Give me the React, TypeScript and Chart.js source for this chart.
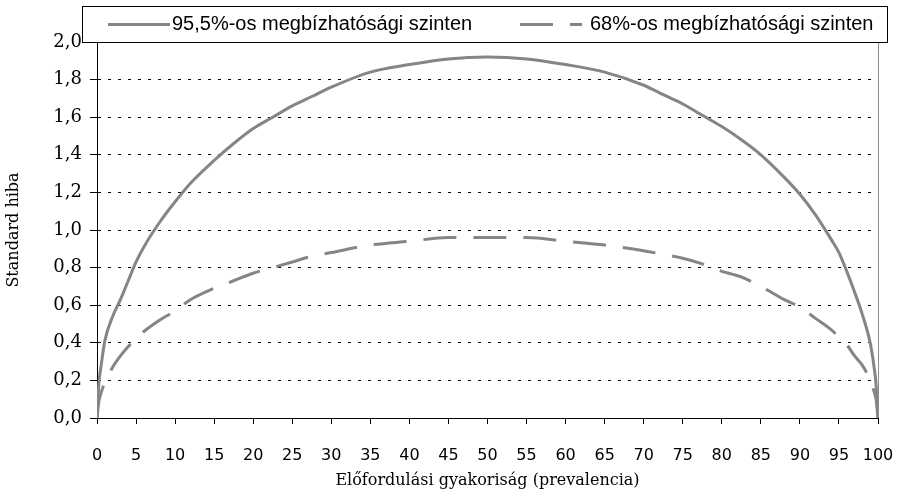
import React, { useEffect, useRef } from "react";
import { Chart, registerables } from "chart.js";

Chart.register(...registerables);

// Prevalence (x, %)
const prevalence = [
  0, 0.25, 0.5, 1, 2, 3, 4, 5, 6, 8, 10, 12, 15, 17.5, 20, 22.5, 25, 27.5, 30, 35,
  40, 45, 50, 55, 60, 65, 70, 72.5, 75, 77.5, 80, 82.5, 85, 88, 90, 92, 94, 95, 96,
  97, 98, 99, 99.5, 99.75, 100,
];
// Standard error at 95.5% confidence level (solid)
const se955 = [
  0, 0.19, 0.27, 0.41, 0.54, 0.63, 0.73, 0.83, 0.91, 1.04, 1.15, 1.25, 1.37, 1.46,
  1.54, 1.6, 1.66, 1.71, 1.76, 1.84, 1.88, 1.91, 1.92, 1.91, 1.88, 1.84, 1.77, 1.72,
  1.67, 1.61, 1.55, 1.48, 1.4, 1.28, 1.19, 1.08, 0.95, 0.88, 0.78, 0.67, 0.55, 0.4,
  0.27, 0.18, 0,
];
// Standard error at 68% confidence level (dashed)
const se68 = [
  0, 0.09, 0.13, 0.19, 0.27, 0.33, 0.38, 0.42, 0.46, 0.52, 0.57, 0.63, 0.69, 0.73,
  0.77, 0.8, 0.83, 0.86, 0.88, 0.92, 0.94, 0.96, 0.96, 0.96, 0.94, 0.92, 0.89, 0.87,
  0.85, 0.82, 0.78, 0.75, 0.7, 0.63, 0.59, 0.53, 0.47, 0.43, 0.39, 0.33, 0.28, 0.2,
  0.14, 0.1, 0,
];

const legendLabels = [
  "95,5%-os megbízhatósági szinten",
  "68%-os megbízhatósági szinten",
];
const xTitle = "Előfordulási gyakoriság (prevalencia)";
const yTitle = "Standard hiba";
const xMin = 0;
const xMax = 100;
const xStep = 5;
const yMin = 0;
const yMax = 2;
const yStep = 0.2;

const LINE_COLOR = "#858585";
const DASH = [33, 17];

export default function App() {
  const ref = useRef<HTMLCanvasElement>(null);

  useEffect(() => {
    document.body.style.margin = "0";
    const canvas = ref.current;
    if (!canvas) return;

    const rightBorderPlugin = {
      id: "rightBorder",
      beforeDatasetsDraw(chart: any) {
        const { ctx, chartArea } = chart;
        ctx.save();
        ctx.strokeStyle = "#8c8c8c";
        ctx.lineWidth = 1;
        ctx.beginPath();
        const x = Math.round(chartArea.right) + 0.5;
        ctx.moveTo(x, chartArea.top);
        ctx.lineTo(x, chartArea.bottom);
        ctx.stroke();
        ctx.restore();
      },
    };

    const boxLegendPlugin = {
      id: "boxLegend",
      afterDraw(chart: any) {
        const { ctx } = chart;
        ctx.save();
        ctx.fillStyle = "#ffffff";
        ctx.fillRect(82.5, 6.5, 805, 36);
        ctx.strokeStyle = "#000000";
        ctx.lineWidth = 1;
        ctx.strokeRect(82.5, 6.5, 805, 36);

        const cy = 24.5;
        ctx.strokeStyle = LINE_COLOR;
        ctx.lineWidth = 3;
        ctx.beginPath();
        ctx.moveTo(108, cy);
        ctx.lineTo(170, cy);
        ctx.stroke();

        ctx.setLineDash(DASH);
        ctx.beginPath();
        ctx.moveTo(520, cy);
        ctx.lineTo(582, cy);
        ctx.stroke();
        ctx.setLineDash([]);

        ctx.fillStyle = "#000000";
        ctx.font = '20px "Liberation Sans", Arial, sans-serif';
        ctx.textBaseline = "middle";
        ctx.textAlign = "left";
        ctx.fillText(legendLabels[0], 172, cy);
        ctx.fillText(legendLabels[1], 590, cy);
        ctx.restore();
      },
    };

    const chart = new Chart(canvas, {
      type: "line",
      data: {
        datasets: [
          {
            label: legendLabels[0],
            data: prevalence.map((x, i) => ({ x, y: se955[i] })),
            borderColor: LINE_COLOR,
            borderWidth: 3,
            pointRadius: 0,
            fill: false,
            cubicInterpolationMode: "monotone",
          },
          {
            label: legendLabels[1],
            data: prevalence.map((x, i) => ({ x, y: se68[i] })),
            borderColor: LINE_COLOR,
            borderWidth: 3,
            borderDash: DASH,
            pointRadius: 0,
            fill: false,
            cubicInterpolationMode: "monotone",
          },
        ],
      },
      options: {
        responsive: false,
        animation: false,
        events: [],
        layout: { padding: { top: 42, right: 0, bottom: 0, left: 0 } },
        plugins: {
          legend: { display: false },
          tooltip: { enabled: false },
        },
        scales: {
          x: {
            type: "linear",
            min: xMin,
            max: xMax,
            afterFit: (s: any) => {
              s.height = 82;
              s.paddingRight = 23;
              s.paddingLeft = 0;
            },
            ticks: {
              stepSize: xStep,
              color: "#000",
              padding: 22,
              maxRotation: 0,
              autoSkip: false,
              font: { family: '"DejaVu Sans", sans-serif', size: 16 },
            },
            grid: {
              drawOnChartArea: false,
              drawTicks: true,
              tickLength: 6,
              tickColor: "#000",
            },
            border: { display: true, color: "#000", width: 1 },
            title: {
              display: true,
              text: xTitle,
              color: "#000",
              padding: { top: 0, bottom: 10 },
              font: { family: '"DejaVu Serif", serif', size: 16 },
            },
          },
          y: {
            type: "linear",
            min: yMin,
            max: yMax,
            afterFit: (s: any) => {
              s.width = 97;
            },
            ticks: {
              stepSize: yStep,
              color: "#000",
              padding: 8,
              font: { family: '"DejaVu Serif", serif', size: 18 },
              callback: (v: any) => Number(v).toFixed(1).replace(".", ","),
            },
            grid: {
              color: "#000",
              lineWidth: 1,
              drawTicks: true,
              tickLength: 7,
              tickColor: "#000",
              tickBorderDash: [],
            },
            border: { display: true, color: "#000", width: 1, dash: [3, 7] },
            title: {
              display: true,
              text: yTitle,
              color: "#000",
              padding: { top: 4, bottom: 0 },
              font: { family: '"DejaVu Serif", serif', size: 16 },
            },
          },
        },
      },
      plugins: [rightBorderPlugin, boxLegendPlugin],
    });

    return () => chart.destroy();
  }, []);

  return (
    <div style={{ width: 901, height: 500 }}>
      <canvas ref={ref} width={901} height={500} />
    </div>
  );
}
